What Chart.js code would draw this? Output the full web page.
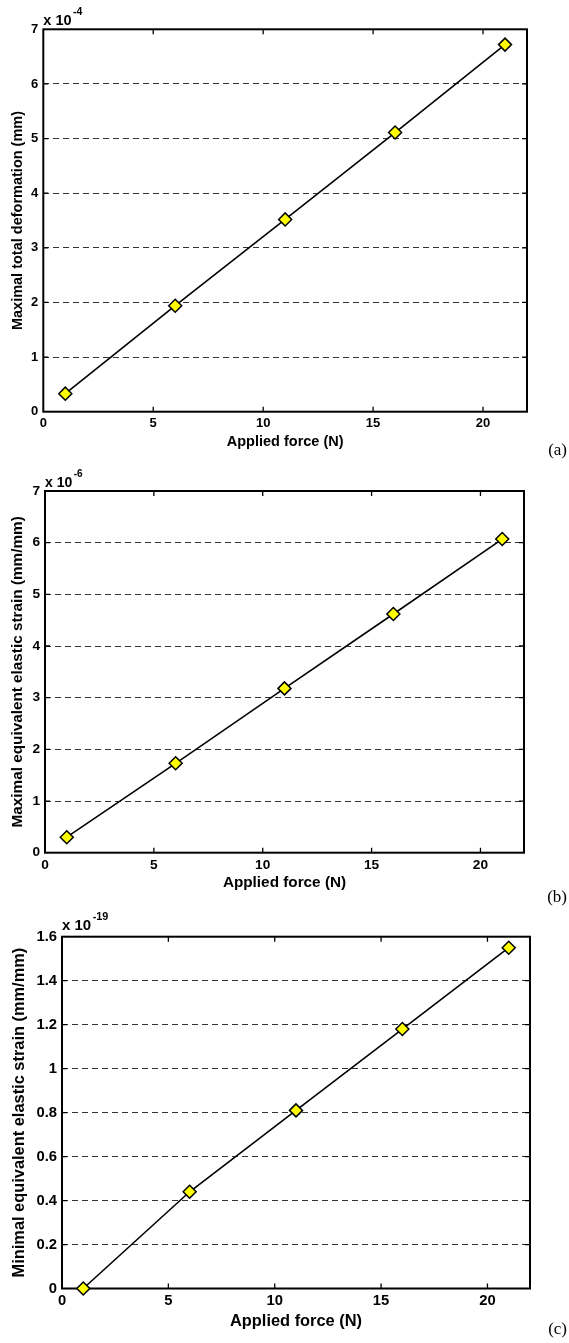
<!DOCTYPE html>
<html>
<head>
<meta charset="utf-8">
<script src="https://cdn.jsdelivr.net/npm/chart.js@4.4.0/dist/chart.umd.min.js"></script>
<style>
  html, body { margin: 0; padding: 0; background: #fff; }
  body { position: relative; width: 569px; height: 1343px; overflow: hidden; }
  canvas { position: absolute; left: 0; }
  .tag { position: absolute; right: 2px; font-family: 'Liberation Serif', 'Times New Roman', serif; font-size: 17px; line-height: 17px; color: #000; }
</style>
</head>
<body>
<canvas id="chartA" width="569" height="460" style="top:0"></canvas>
<canvas id="chartB" width="569" height="440" style="top:460px"></canvas>
<canvas id="chartC" width="569" height="443" style="top:900px"></canvas>
<div class="tag" style="top:441px">(a)</div>
<div class="tag" style="top:888px">(b)</div>
<div class="tag" style="top:1320px">(c)</div>
<script>
const FONT = "'Liberation Sans', Arial, Helvetica, sans-serif";

// applied force, shared by all three panels
const forceN = [1, 6, 11, 16, 21];
const xTickValues = [0, 5, 10, 15, 20];
const xTitle = 'Applied force (N)';

// (a) maximal total deformation, x 10^-4 mm
const totalDeformation = [0.33, 1.94, 3.52, 5.11, 6.72];
const deformationTicks = [0, 1, 2, 3, 4, 5, 6, 7];

// (b) maximal equivalent elastic strain, x 10^-6
const maxElasticStrain = [0.30, 1.73, 3.18, 4.62, 6.07];
const maxStrainTicks = [0, 1, 2, 3, 4, 5, 6, 7];

// (c) minimal equivalent elastic strain, x 10^-19
const minElasticStrain = [0.00, 0.44, 0.81, 1.18, 1.55];
const minStrainTicks = [0, 0.2, 0.4, 0.6, 0.8, 1, 1.2, 1.4, 1.6];

// matlab style box: frame, inward ticks on all sides, "x 10^n" label
const matlabBox = {
    id: 'matlabBox',
    beforeDatasetsDraw(chart, args, opts) {
        const { ctx, chartArea: a, scales } = chart;
        ctx.save();
        ctx.strokeStyle = '#000';
        ctx.lineWidth = 1.3;
        ctx.beginPath();
        scales.x.ticks.forEach(t => {
            const px = scales.x.getPixelForValue(t.value);
            if (px <= a.left + 1 || px >= a.right - 1) return;
            ctx.moveTo(px, a.bottom); ctx.lineTo(px, a.bottom - 5);
            ctx.moveTo(px, a.top); ctx.lineTo(px, a.top + 5);
        });
        scales.y.ticks.forEach(t => {
            const py = scales.y.getPixelForValue(t.value);
            if (py <= a.top + 1 || py >= a.bottom - 1) return;
            ctx.moveTo(a.left, py); ctx.lineTo(a.left + 5, py);
            ctx.moveTo(a.right, py); ctx.lineTo(a.right - 5, py);
        });
        ctx.stroke();
        ctx.lineWidth = 2;
        ctx.strokeRect(a.left, a.top, a.right - a.left, a.bottom - a.top);

        // exponent label above the top-left corner
        ctx.fillStyle = '#000';
        ctx.textAlign = 'left';
        ctx.textBaseline = 'alphabetic';
        ctx.font = `bold ${opts.size}px ${FONT}`;
        const baseY = a.top - opts.gap;
        ctx.fillText('x 10', a.left, baseY);
        const w = ctx.measureText('x 10').width;
        ctx.font = `bold ${opts.size * 0.72}px ${FONT}`;
        ctx.fillText(opts.exp, a.left + w + 1.5, baseY - opts.size * 0.7);
        ctx.restore();
    }
};

function makeChart(id, values, yTicks, yTitle, exp, box) {
    const ctx = document.getElementById(id);
    const H = ctx.height;
    return new Chart(ctx, {
        type: 'line',
        data: {
            datasets: [{
                data: forceN.map((x, i) => ({ x: x, y: values[i] })),
                borderColor: '#000',
                borderWidth: 1.6,
                pointStyle: 'rectRot',
                pointRadius: 6.5,
                pointBackgroundColor: '#ffff00',
                pointBorderColor: '#000',
                pointBorderWidth: 1.5,
                tension: 0,
                clip: false
            }]
        },
        options: {
            responsive: false,
            animation: false,
            layout: { padding: { top: box.top, right: 569 - box.right, left: 0, bottom: 0 } },
            plugins: {
                legend: { display: false },
                tooltip: { enabled: false },
                matlabBox: { exp: exp, size: box.expSize, gap: box.expGap }
            },
            scales: {
                x: {
                    type: 'linear',
                    min: 0,
                    max: 22,
                    afterBuildTicks: s => { s.ticks = xTickValues.map(v => ({ value: v })); },
                    afterFit: s => { s.height = H - box.bottom; },
                    grid: { display: false, drawTicks: false },
                    border: { display: false },
                    ticks: {
                        color: '#000',
                        padding: box.xTickPad,
                        maxRotation: 0,
                        font: { family: FONT, size: box.tickSize, weight: 'bold' }
                    },
                    title: {
                        display: true,
                        text: xTitle,
                        color: '#000',
                        padding: { top: 0, bottom: box.xTitlePad },
                        font: { family: FONT, size: box.titleSize, weight: 'bold' }
                    }
                },
                y: {
                    type: 'linear',
                    min: yTicks[0],
                    max: yTicks[yTicks.length - 1],
                    afterBuildTicks: s => { s.ticks = yTicks.map(v => ({ value: v })); },
                    afterFit: s => { s.width = box.left; },
                    grid: { color: '#333', lineWidth: 1, drawTicks: false },
                    border: { display: false, dash: [6, 4] },
                    ticks: {
                        color: '#000',
                        padding: 5,
                        callback: v => String(parseFloat(Number(v).toFixed(1))),
                        font: { family: FONT, size: box.tickSize, weight: 'bold' }
                    },
                    title: {
                        display: true,
                        text: yTitle,
                        color: '#000',
                        padding: { top: box.yTitlePad, bottom: 0 },
                        font: { family: FONT, size: box.titleSize, weight: 'bold' }
                    }
                }
            }
        },
        plugins: [matlabBox]
    });
}

makeChart('chartA', totalDeformation, deformationTicks,
    'Maximal total deformation (mm)', '-4',
    { top: 29.3, right: 527, left: 43.3, bottom: 411.7, tickSize: 13, titleSize: 14.5,
      xTickPad: 4, xTitlePad: 9.6, yTitlePad: 8.8, expSize: 14.5, expGap: 4.3 });

makeChart('chartB', maxElasticStrain, maxStrainTicks,
    'Maximal equivalent elastic strain (mm/mm)', '-6',
    { top: 31, right: 524, left: 45, bottom: 392.7, tickSize: 13.7, titleSize: 15.3,
      xTickPad: 4, xTitlePad: 7.8, yTitlePad: 8.8, expSize: 14, expGap: 4.3 });

makeChart('chartC', minElasticStrain, minStrainTicks,
    'Minimal equivalent elastic strain (mm/mm)', '-19',
    { top: 36.7, right: 530, left: 62, bottom: 388.5, tickSize: 14.8, titleSize: 16.4,
      xTickPad: 4, xTitlePad: 11.5, yTitlePad: 9.7, expSize: 15, expGap: 6.7 });
</script>
</body>
</html>
